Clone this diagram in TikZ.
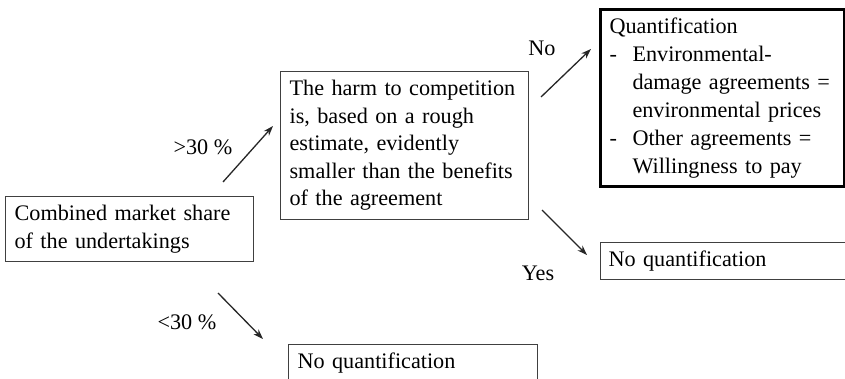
\documentclass[tikz,border=0pt]{standalone}
\usepackage{fontspec}
\setmainfont{Liberation Serif}
\usetikzlibrary{arrows.meta}
\newcommand\myfont{\fontsize{22.2}{27.5}\selectfont\hyphenpenalty10000 \exhyphenpenalty10000 }
\newcommand\myfontq{\fontsize{22.2}{28}\selectfont\hyphenpenalty10000 \exhyphenpenalty10000 }
\begin{document}
\begin{tikzpicture}[x=1pt,y=-1pt,
  txt/.style={font=\myfont},
  box/.style={txt, draw=black!75, line width=1.2pt, anchor=north west, align=left, inner xsep=9pt, inner ysep=0pt},
  lbl/.style={txt, inner sep=0pt},
  arr/.style={line width=1.3pt, black!85, -{Stealth[length=10pt,width=7pt]}}]
\clip (0,0) rectangle (845,379);
\useasboundingbox (0,0) rectangle (845,379);
\fill[white] (0,0) rectangle (845,379);

\node[box, text width=230pt, minimum width=248pt, minimum height=65pt] (share) at (5,196)
  {Combined market share\\of the undertakings};
\node[box, text width=230pt, minimum width=248pt, minimum height=148pt] (harm) at (280,71)
  {The harm to competition\\is, based on a rough\\estimate, evidently\\smaller than the benefits\\of the agreement};
\node[box, draw=black, line width=3pt, text width=226pt, minimum width=244pt, minimum height=177pt,
  font=\myfontq] (quant) at (599,8)
  {Quantification\\\makebox[23pt][l]{-}Environmental-\\\hspace*{23pt}damage agreements =\\\hspace*{23pt}environmental prices\\\makebox[23pt][l]{-}Other agreements =\\\hspace*{23pt}Willingness to pay};
\node[box, inner xsep=8pt, text width=244pt, minimum width=260pt, minimum height=37pt] (noq1) at (600,242)
  {No quantification};
\node[box, text width=231pt, minimum width=249pt, minimum height=37pt] (noq2) at (288,344)
  {No quantification};

\coordinate (a1s) at (223,182); \coordinate (a1e) at (273,126);
\coordinate (a2s) at (218,293); \coordinate (a2e) at (263,339);
\coordinate (a3s) at (541,97);  \coordinate (a3e) at (591,49);
\coordinate (a4s) at (542,210); \coordinate (a4e) at (587,255);
\draw[arr] (a1s) -- (a1e);
\draw[arr] (a2s) -- (a2e);
\draw[arr] (a3s) -- (a3e);
\draw[arr] (a4s) -- (a4e);

\node[lbl] (gt) at (203,147) {>30 \%};
\node[lbl] (lt) at (187,322) {<30 \%};
\node[lbl] (no) at (542,48) {No};
\node[lbl] (yes) at (538,273) {Yes};
\end{tikzpicture}
\end{document}
